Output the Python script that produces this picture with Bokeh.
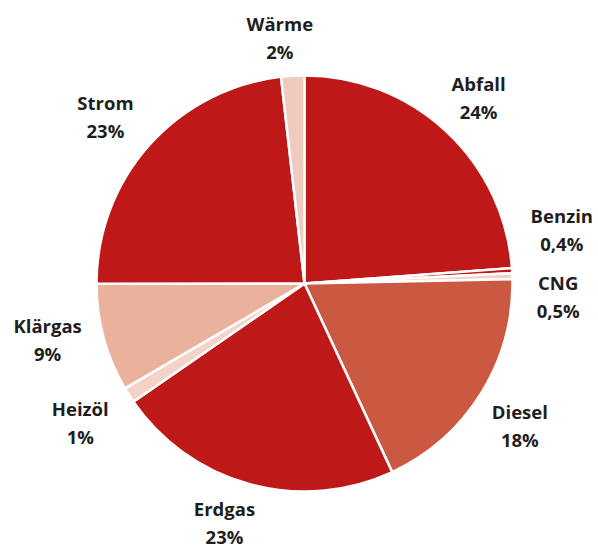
import math
from bokeh.plotting import figure
from bokeh.models import ColumnDataSource, Range1d
from bokeh.embed import file_html
from bokeh.resources import INLINE
from bokeh.core.properties import value

# ---- data ----
categories = ["Abfall", "Benzin", "CNG", "Diesel", "Erdgas", "Heizöl", "Klärgas", "Strom", "Wärme"]
shares = [23.8, 0.4, 0.45, 18.4, 22.3, 1.2, 8.4, 23.2, 1.8]
pct_labels = ["24%", "0,4%", "0,5%", "18%", "23%", "1%", "9%", "23%", "2%"]

# ---- styles ----
DARK = "#BE1819"
colors = {
    "Abfall": DARK, "Benzin": DARK, "CNG": "#F3D3C6", "Diesel": "#CB5941",
    "Erdgas": DARK, "Heizöl": "#F3D3C6", "Klärgas": "#EAB19D", "Strom": DARK,
    "Wärme": "#EECBBE",
}
# label placement tweaks: (angle offset in degrees, radius in px)
label_tweak = {
    "Abfall": (0.2, 255), "Benzin": (-8.4, 263), "CNG": (4.9, 254),
    "Diesel": (1.5, 258), "Erdgas": (3.3, 252), "Heizöl": (0.6, 264),
    "Klärgas": (2.8, 263), "Strom": (-1.7, 260), "Wärme": (-2.5, 247),
}

W, H = 598, 548
CX, CY = 304, H - 283
R = 208

total = sum(shares)
starts, ends, mids = [], [], []
cum = 0.0
for s in shares:
    a0 = cum / total * 360.0
    cum += s
    a1 = cum / total * 360.0
    starts.append(math.radians(90 - a0))
    ends.append(math.radians(90 - a1))
    mids.append((a0 + a1) / 2)

src = ColumnDataSource(dict(
    cat=categories, start=starts, end=ends,
    color=[colors[c] for c in categories],
))

lx, ly = [], []
for c, m in zip(categories, mids):
    da, r = label_tweak[c]
    ang = math.radians(m + da)
    lx.append(CX + r * math.sin(ang))
    ly.append(CY + r * math.cos(ang))

lab = ColumnDataSource(dict(x=lx, y=ly, name=categories, pct=pct_labels))

p = figure(width=W, height=H, output_backend="svg", toolbar_location=None,
           x_range=Range1d(0, W), y_range=Range1d(0, H),
           min_border=0, min_border_left=0, min_border_right=0,
           min_border_top=0, min_border_bottom=0)
p.axis.visible = False
p.grid.visible = False
p.outline_line_color = None
p.background_fill_color = "white"
p.border_fill_color = "white"

p.wedge(x=CX, y=CY, radius=R, start_angle="start", end_angle="end",
        direction="clock", fill_color="color", line_color="white",
        line_width=2.5, source=src)

common = dict(text_align="center", text_baseline="middle",
              text_font=value("Open Sans"), text_font_style="bold",
              text_font_size="18.5px", text_color="#1E1E1E", source=lab)
p.text(x="x", y="y", text="name", y_offset=-14, **common)
p.text(x="x", y="y", text="pct", y_offset=14, **common)

open("out.html", "w").write(file_html(p, INLINE))
